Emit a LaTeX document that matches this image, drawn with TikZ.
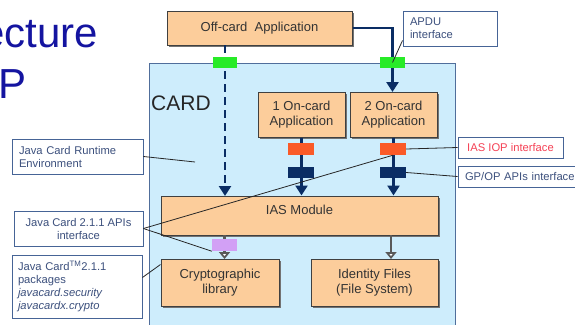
\documentclass[tikz,border=0pt]{standalone}
\usepackage{fontspec}
\setmainfont{Liberation Sans}
\usetikzlibrary{arrows.meta,shadows,calc}
\definecolor{peach}{RGB}{252,205,155}
\definecolor{cardblue}{RGB}{206,237,252}
\definecolor{cardedge}{RGB}{80,110,155}
\definecolor{navy}{RGB}{10,45,100}
\definecolor{calledge}{RGB}{70,100,150}
\definecolor{calltext}{RGB}{60,80,125}
\definecolor{titleblue}{RGB}{20,20,160}
\definecolor{iopred}{RGB}{245,65,85}
\definecolor{sqgreen}{RGB}{40,235,40}
\definecolor{sqorange}{RGB}{250,90,40}
\definecolor{sqlilac}{RGB}{210,160,245}
\tikzset{
  pbox/.style={draw=black!75, line width=1pt, fill=peach, align=center,
    font=\fontsize{13}{15}\selectfont, text=black!80, inner sep=0pt,
    drop shadow={shadow xshift=1.5pt, shadow yshift=-1.5pt, fill=black!55, opacity=1}},
  callbox/.style={draw=calledge, line width=0.9pt, fill=white, align=left,
    font=\fontsize{11.2}{13}\selectfont, text=calltext, inner xsep=6pt, inner ysep=2pt},
  sq/.style={inner sep=0pt, draw=none},
  navyarrow/.style={draw=navy, line width=2.6pt, -{Triangle[width=12pt,length=10pt]}},
  grayarrow/.style={draw=black!65, line width=2.2pt, -{Triangle[open,fill=white,width=11pt,length=7pt]}},
  callline/.style={draw=black!85, line width=0.8pt},
}
\begin{document}
\begin{tikzpicture}[x=1pt,y=-1pt]
\useasboundingbox (0,0) rectangle (575,324);
% title fragments
\node[anchor=base east, inner sep=0pt, font=\fontsize{42}{42}\selectfont, text=titleblue] (t1) at (98,47) {ecture};
\node[anchor=base west, inner sep=0pt, font=\fontsize{42}{42}\selectfont, text=titleblue] (t2) at (-2,98) {P};
% card
\node[draw=cardedge, line width=1pt, fill=cardblue, minimum width=306pt, minimum height=262pt, inner sep=0pt] (card) at (302,194) {};
\node[anchor=base west, inner sep=0pt, font=\fontsize{21}{21}\selectfont, text=black!85] (cardlbl) at (151,110) {CARD};
% boxes
\node[pbox, minimum width=185pt, minimum height=34pt] (off) at (259.5,28) {Off-card\ \ Application};
\node[pbox, minimum width=87pt, minimum height=45pt] (on1) at (301.5,114.5) {1 On-card\\Application};
\node[pbox, minimum width=87pt, minimum height=45pt] (on2) at (393.5,114.5) {2 On-card\\Application};
\node[pbox, minimum width=277pt, minimum height=39pt, text depth=12pt] (ias) at (299.5,215.5) {IAS Module};
\node[pbox, minimum width=118pt, minimum height=47pt] (crypto) at (220,282.5) {Cryptographic\\library};
\node[pbox, minimum width=127pt, minimum height=47pt] (idf) at (374.5,282.5) {Identity Files\\(File System)};
% connectors
\draw[navyarrow, dash pattern=on 8pt off 5pt] (225,45) -- (225,196);
\draw[navyarrow] (off.east) -- (392.5,28) -- (392.5,92);
\draw[navyarrow] (on1.south) -- (on1.south |- ias.north);
\draw[navyarrow] (on2.south) -- (on2.south |- ias.north);
\draw[grayarrow] (224.5,235) -- (224.5,259);
\draw[grayarrow] (391,235) -- (391,259);
% squares
\node[sq, fill=sqgreen, minimum width=24pt, minimum height=11pt] (g1) at (225,62.5) {};
\node[sq, fill=sqgreen, minimum width=25pt, minimum height=11pt] (g2) at (392.5,62.5) {};
\node[sq, fill=sqorange, minimum width=26pt, minimum height=12pt] (o1) at (301,149) {};
\node[sq, fill=sqorange, minimum width=26pt, minimum height=12pt] (o2) at (393,149) {};
\node[sq, fill=navy, minimum width=26pt, minimum height=11pt] (n1) at (301,172.5) {};
\node[sq, fill=navy, minimum width=26pt, minimum height=11pt] (n2) at (393,172.5) {};
\node[sq, fill=sqlilac, minimum width=25pt, minimum height=12pt] (p1) at (224.5,245) {};
% callouts
\node[callbox, minimum width=94pt, minimum height=35pt, text width=80pt] (apdu) at (450,28.5) {APDU\\interface};
\node[callbox, minimum width=105pt, minimum height=21pt, text=iopred, align=center] (iop) at (510.5,147.5) {IAS IOP interface};
\node[callbox, minimum width=132pt, minimum height=21pt, text width=118pt] (gp) at (524,176.5) {GP/OP APIs interface};
\node[callbox, minimum width=131pt, minimum height=35pt, text width=117pt] (jcre) at (77.5,156.5) {Java Card Runtime\\Environment};
\node[callbox, minimum width=129pt, minimum height=35pt, align=center] (apis) at (78.5,228.5) {Java Card 2.1.1 APIs\\interface};
\node[callbox, minimum width=130pt, minimum height=63pt, text width=118pt] (pkg) at (77,286.5) {Java Card\textsuperscript{TM}2.1.1\\packages\\\textit{javacard.security}\\\textit{javacardx.crypto}};
% callout lines
\coordinate (jcreend) at (195,162);
\draw[callline] (jcre.east) -- (jcreend);
\draw[callline] ($(apdu.south west)+(0,-6)$) -- (g2.center);
\draw[callline] (iop.west) -- (o2.east);
\draw[callline] (gp.west) -- (n2.east);
\draw[callline] (apis.east) -- (o2.south);
\draw[callline] (apis.east) -- (p1.south west);
\draw[callline] ($(pkg.east)+(0,-9)$) -- ($(crypto.north west)+(0,6)$);
\end{tikzpicture}
\end{document}
